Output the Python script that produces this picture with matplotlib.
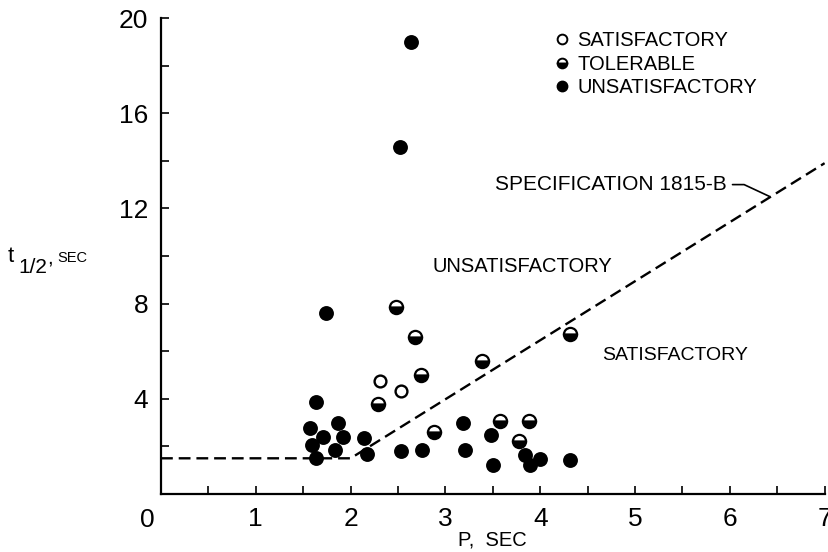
import numpy as np
import matplotlib
matplotlib.use("Agg")
import matplotlib.pyplot as plt
from matplotlib.lines import Line2D

# P (sec) and t1/2 (sec)
sat_p = [2.31, 2.53]
sat_t = [4.76, 4.34]

tol_p = [2.48, 2.68, 3.39, 2.74, 2.29, 4.31, 3.58, 3.88, 2.88, 3.78]
tol_t = [7.87, 6.58, 5.59, 4.99, 3.78, 6.71, 3.08, 3.08, 2.62, 2.23]

uns_p = [2.64, 2.52, 1.74, 1.64, 1.57, 1.87, 1.71, 1.92, 2.14, 1.59, 1.84, 1.64,
         2.17, 2.53, 2.75, 3.19, 3.21, 3.48, 3.50, 3.84, 4.00, 3.89, 4.31]
uns_t = [19.0, 14.6, 7.59, 3.88, 2.79, 2.97, 2.41, 2.38, 2.34, 2.06, 1.85, 1.50,
         1.68, 1.81, 1.85, 2.97, 1.85, 2.48, 1.22, 1.63, 1.46, 1.22, 1.43]

# specification 1815-B boundary
spec_p = [0, 2, 7]
spec_t = [1.5, 1.5, 13.9]

x_ticks = np.arange(0, 7.01, 0.5)
x_labels = ["", "", "1", "", "2", "", "3", "", "4", "", "5", "", "6", "", "7"]
y_ticks = np.arange(0, 20.01, 2)
y_labels = ["", "", "4", "", "8", "", "12", "", "16", "", "20"]

FONT = ["Liberation Sans", "DejaVu Sans"]

fig = plt.figure(figsize=(8.29, 5.52), dpi=100)
ax = fig.add_axes([161 / 829, 1 - 494 / 552, 663.6 / 829, 476 / 552])

ms = 9.5
ax.plot(uns_p, uns_t, "o", ms=ms, mfc="black", mec="black", mew=1.2, clip_on=False)
ax.plot(sat_p, sat_t, "o", ms=ms - 1, mfc="white", mec="black", mew=1.7)
ax.plot(tol_p, tol_t, "o", ms=ms, fillstyle="bottom", mfc="black",
        mfcalt="white", mec="black", mew=1.6)
ax.plot(spec_p, spec_t, color="black", lw=1.7, dashes=(5, 2.5))

ax.set_xlim(0, 7)
ax.set_ylim(0, 20)
for s in ["top", "right"]:
    ax.spines[s].set_visible(False)
for s in ["left", "bottom"]:
    ax.spines[s].set_linewidth(1.6)

ax.set_xticks(x_ticks)
ax.set_xticklabels(x_labels, family=FONT, fontsize=19)
ax.set_yticks(y_ticks)
ax.set_yticklabels(y_labels, family=FONT, fontsize=19)
ax.tick_params(direction="in", length=6, width=1.2, pad=9)
ax.annotate("0", xy=(0, 0), xytext=(-10, -19), textcoords="offset points",
            ha="center", va="center", family=FONT, fontsize=19)

ax.set_xlabel("P,  SEC", family=FONT, fontsize=14.5, labelpad=0)

# y label: t1/2, SEC
fig.text(8 / 829, 1 - 262 / 552, "t", family=FONT, fontsize=16)
fig.text(18 / 829, 1 - 273 / 552, "1/2", family=FONT, fontsize=15)
fig.text(47 / 829, 1 - 263 / 552, ",", family=FONT, fontsize=15)
fig.text(57 / 829, 1 - 262 / 552, "SEC", family=FONT, fontsize=10.5)

# region labels
ax.text(3.81, 9.55, "UNSATISFACTORY", family=FONT, fontsize=14.5,
        ha="center", va="center")
ax.text(5.42, 5.84, "SATISFACTORY", family=FONT, fontsize=14,
        ha="center", va="center")
ax.annotate("SPECIFICATION 1815-B", xy=(6.42, 12.5), xytext=(5.97, 13.0),
            ha="right", va="center", family=FONT, fontsize=15,
            arrowprops=dict(arrowstyle="-", lw=1.2, color="black",
                            shrinkA=2, shrinkB=0,
                            connectionstyle="angle,angleA=0,angleB=-25,rad=0"))

handles = [
    Line2D([], [], ls="none", marker="o", ms=7, mfc="white", mec="black", mew=1.4),
    Line2D([], [], ls="none", marker="o", ms=7, fillstyle="bottom", mfc="black",
           mfcalt="white", mec="black", mew=1.4),
    Line2D([], [], ls="none", marker="o", ms=7.5, mfc="black", mec="black"),
]
ax.legend(handles, ["SATISFACTORY", "TOLERABLE", "UNSATISFACTORY"],
          loc="upper left", bbox_to_anchor=(0.594, 0.972), frameon=False,
          handlelength=0.7, handletextpad=0.4, labelspacing=0.22,
          borderpad=0, borderaxespad=0, prop={"family": FONT, "size": 14.5})

fig.savefig("out.png", dpi=100)
